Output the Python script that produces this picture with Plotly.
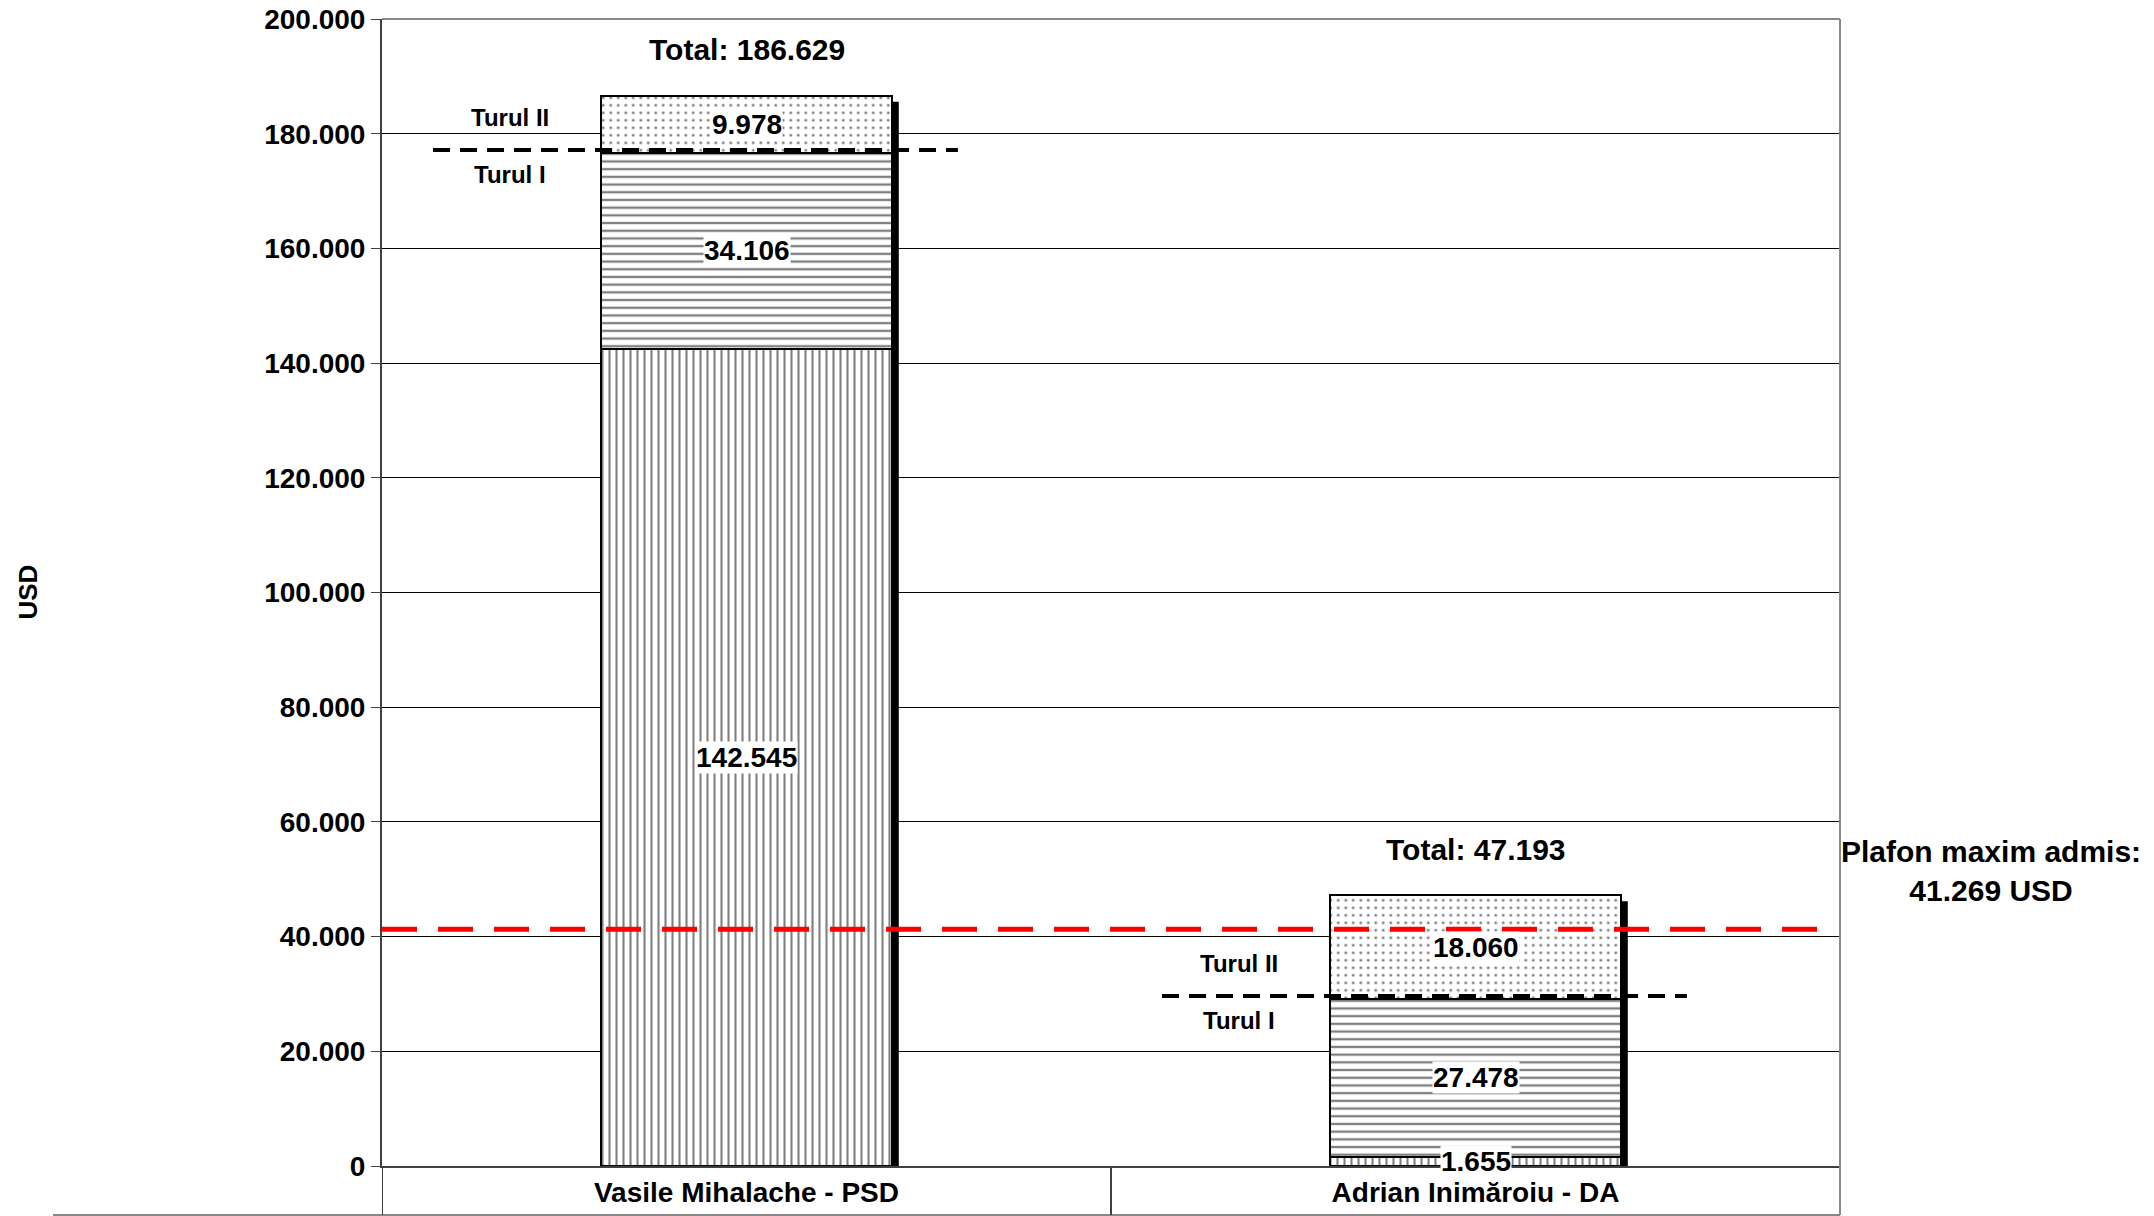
import plotly.graph_objects as go

# ---------------- data ----------------
candidates = ["Vasile Mihalache - PSD", "Adrian Inimăroiu - DA"]
tur1_part_a = [142545, 1655]     # vertical hatch
tur1_part_b = [34106, 27478]     # horizontal hatch
tur2_values = [9978, 18060]      # dotted
totals = [186629, 47193]
plafon = 41269
y_tick_values = [0, 20000, 40000, 60000, 80000, 100000, 120000, 140000, 160000, 180000, 200000]
y_tick_labels = ["0", "20.000", "40.000", "60.000", "80.000", "100.000",
                 "120.000", "140.000", "160.000", "180.000", "200.000"]
y_title = "USD"
plafon_label = "Plafon maxim admis:<br>41.269 USD"
turul_labels = ["Turul I", "Turul II"]

# ---------------- layout constants ----------------
W, H = 2154, 1216
ML, MR, MT, MB = 382, 314, 19, 50
PW, PH = W - ML - MR, H - MT - MB
YMAX = 200000
px2y = YMAX / PH          # data units per pixel (y)
px2x = 2.0 / PW           # category units per pixel (x)
FONT = "Liberation Sans, Arial, sans-serif"


def fmt(v):
    return f"{v:,}".replace(",", ".")


series = [
    (tur1_part_a, "|", 7, 0.3),
    (tur1_part_b, "-", 7.7, 0.3),
    (tur2_values, ".", 7.5, 0.12),
]

fig = go.Figure()
for vals, shp, size, sol in series:
    fig.add_trace(go.Bar(
        x=candidates, y=vals,
        marker=dict(color="white",
                    line=dict(color="black", width=2),
                    pattern=dict(shape=shp, fgcolor="black", bgcolor="white",
                                 size=size, solidity=sol)),
        showlegend=False, hoverinfo="skip",
    ))

shapes = []
annotations = []

# shadows on the right side of each bar
for i, tot in enumerate(totals):
    xs = i + 0.2 + 3.5 * px2x
    shapes.append(dict(type="line", xref="x", yref="y", x0=xs, x1=xs,
                       y0=0, y1=tot - 6 * px2y,
                       line=dict(color="black", width=6), layer="above"))

# segment labels
for i in range(len(candidates)):
    base = 0
    for vals, *_ in series:
        v = vals[i]
        annotations.append(dict(x=i, y=base + v / 2, xref="x", yref="y",
                                text=fmt(v), showarrow=False,
                                bgcolor="white", borderpad=0,
                                font=dict(family=FONT, size=28, color="black", weight="bold")))
        base += v
    # total label
    annotations.append(dict(x=i, y=totals[i], xref="x", yref="y",
                            text="Total: " + fmt(totals[i]), showarrow=False,
                            yshift=46,
                            font=dict(family=FONT, size=30, color="black", weight="bold")))
    # Turul I / II separator
    t1 = tur1_part_a[i] + tur1_part_b[i]
    shapes.append(dict(type="line", xref="x", yref="y", x0=i - 0.43, x1=i + 0.29,
                       y0=t1 + 3 * px2y, y1=t1 + 3 * px2y,
                       line=dict(color="black", width=4, dash="17px,10px")))
    annotations.append(dict(x=i - 0.325, y=t1, xref="x", yref="y", text=turul_labels[1],
                            showarrow=False, yshift=35,
                            font=dict(family=FONT, size=24, color="black", weight="bold")))
    annotations.append(dict(x=i - 0.325, y=t1, xref="x", yref="y", text=turul_labels[0],
                            showarrow=False, yshift=-22,
                            font=dict(family=FONT, size=24, color="black", weight="bold")))

# plafon red dashed line
shapes.append(dict(type="line", xref="paper", yref="y", x0=0, x1=0.992,
                   y0=plafon, y1=plafon, line=dict(color="#ff0000", width=5, dash="35px,21px")))
annotations.append(dict(x=(1991 - ML) / PW, y=plafon, xref="paper", yref="y", text=plafon_label,
                        showarrow=False, yshift=58, xanchor="center",
                        font=dict(family=FONT, size=30, color="black", weight="bold")))

# y title
annotations.append(dict(x=(27 - ML) / PW, y=0.5, xref="paper", yref="paper", text=y_title,
                        textangle=-90, showarrow=False, xanchor="center", yanchor="middle",
                        font=dict(family=FONT, size=26, color="black", weight="bold")))

# frame: top & right border, category box
box_y = -(MB - 1) / PH
shapes.append(dict(type="line", xref="paper", yref="paper", x0=0, x1=1, y0=1, y1=1,
                   line=dict(color="#888888", width=2)))
shapes.append(dict(type="line", xref="paper", yref="paper", x0=1, x1=1, y0=box_y, y1=1,
                   line=dict(color="#888888", width=2)))
shapes.append(dict(type="line", xref="paper", yref="paper", x0=(53 - ML) / PW, x1=1,
                   y0=box_y, y1=box_y, line=dict(color="#888888", width=2)))
for xb in [-0.5, 0.5]:
    shapes.append(dict(type="line", xref="x", yref="paper", x0=xb, x1=xb, y0=box_y, y1=0,
                       line=dict(color="#404040", width=2)))

fig.update_layout(
    width=W, height=H,
    margin=dict(l=ML, r=MR, t=MT, b=MB, pad=0, autoexpand=False),
    barmode="stack", bargap=0.6,
    plot_bgcolor="white", paper_bgcolor="white",
    font=dict(family=FONT, size=28, color="black", weight="bold"),
    shapes=shapes, annotations=annotations,
    xaxis=dict(type="category", range=[-0.5, 1.5], showline=True, linecolor="#404040",
               linewidth=2, ticks="", showgrid=False, automargin=False,
               tickfont=dict(family=FONT, size=28, color="black", weight="bold")),
    yaxis=dict(range=[0, YMAX], tickvals=y_tick_values, ticktext=y_tick_labels,
               showgrid=True, gridcolor="#000000", gridwidth=1, zeroline=False,
               showline=True, linecolor="#404040", linewidth=2, automargin=False,
               ticks="outside", ticklen=9, tickcolor="#404040", tickwidth=1,
               tickfont=dict(family=FONT, size=28, color="black", weight="bold")),
)

fig.write_html("out.html", config={"displayModeBar": False},
               post_script="document.body.style.margin='0px';document.body.style.overflow='hidden';")
